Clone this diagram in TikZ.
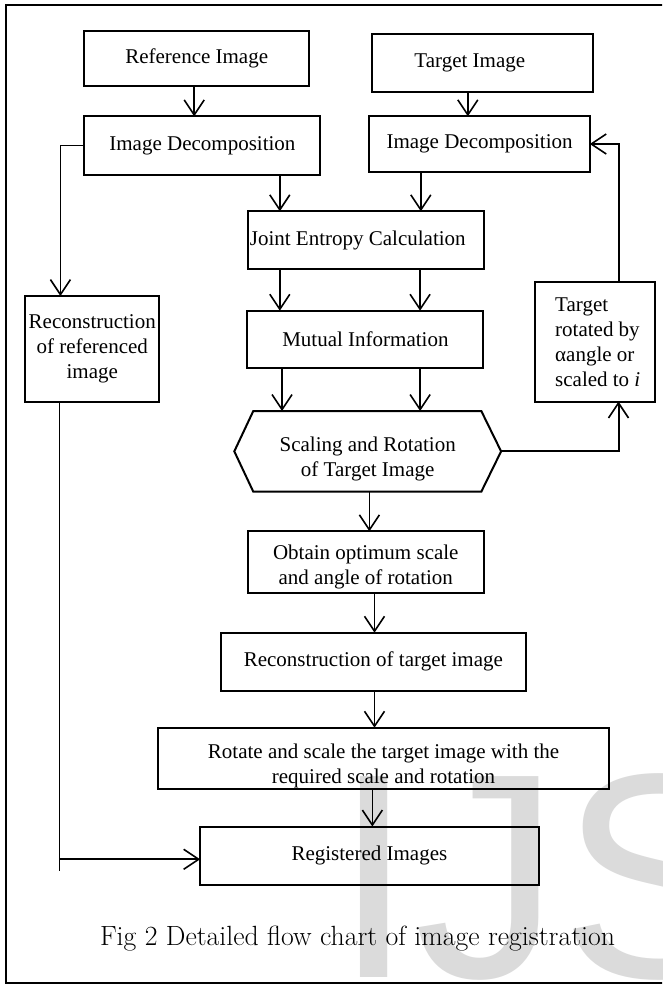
\documentclass[tikz,border=0pt]{standalone}
\usepackage{fontspec}
\usepackage{graphicx}
\newfontfamily\tnr{Liberation Serif}
\newfontfamily\wmfont{Liberation Sans}
\usetikzlibrary{arrows.meta}
\newcommand\mytopstrut[1]{\rule{0pt}{#1pt}}
\begin{document}
\begin{tikzpicture}[x=1pt,y=-1pt,
  box/.style={draw, line width=2pt, inner sep=0pt, outer sep=0pt, align=center,
              font=\tnr\fontsize{21}{25}\selectfont},
  arr/.style={line width=1.6pt, -{Straight Barb[length=15pt,width=20pt,line width=1.6pt]}},
  thinline/.style={line width=1.2pt}]
\useasboundingbox (0,0) rectangle (662,985);
\clip (0,0) rectangle (662,985);
\fill[white] (0,0) rectangle (662,985);
% watermark
\node[anchor=base west, inner sep=0pt, text=black!14,
      font=\wmfont\fontsize{292}{292}\selectfont] (wm) at (333,977) {IJS};
% outer frame (its right side lies outside the picture)
\draw[line width=2pt] (700,5) -- (6,5) -- (6,983) -- (700,983);

% boxes
\node[box, minimum width=224.6pt, minimum height=55pt] (ref) at (196.7,58.5) {Reference Image};
\node[box, minimum width=220.8pt, minimum height=57.4pt] (tgt) at (482.8,63) {\hspace*{-26pt}Target Image};
\node[box, minimum width=236pt, minimum height=58.7pt] (decL) at (202.4,145.7) {Image Decomposition};
\node[box, minimum width=220.4pt, minimum height=55.4pt] (decR) at (479.6,144) {Image Decomposition};
\node[box, minimum width=236pt, minimum height=58pt] (joint) at (365.8,240.3) {\hspace*{-16pt}Joint Entropy Calculation};
\node[box, minimum width=133.9pt, minimum height=105.7pt] (recref) at (92.25,348.9) {Reconstruction\\of referenced\\image};
\node[box, minimum width=236pt, minimum height=57.6pt] (mutual) at (365.4,339.5) {Mutual Information};
\node[box, align=left, minimum width=120.5pt, minimum height=119.5pt] (tgtrot) at (594.75,341.75) {\hspace*{6pt}Target\\\hspace*{6pt}rotated by\\\hspace*{6pt}αangle or\\\hspace*{6pt}scaled to \textit{i}};
\node[box, draw=none, minimum width=266.8pt, minimum height=80.7pt] (hex) at (367.7,451.35) {\mytopstrut{30}Scaling and Rotation\\of Target Image};
\draw[line width=2pt] (hex.west) -- ([xshift=19pt]hex.north west) -- ([xshift=-19.8pt]hex.north east)
  -- (hex.east) -- ([xshift=-19.8pt]hex.south east) -- ([xshift=19pt]hex.south west) -- cycle;
\node[box, minimum width=236pt, minimum height=61.4pt] (obtain) at (365.8,562) {\mytopstrut{25}Obtain optimum scale\\and angle of rotation};
\node[box, minimum width=304.4pt, minimum height=58pt] (recT) at (373.4,661.7) {Reconstruction of target image};
\node[box, minimum width=451.3pt, minimum height=61pt] (rot) at (383.55,758.2) {\mytopstrut{30}Rotate and scale the target image with the\\required scale and rotation};
\node[box, minimum width=338.6pt, minimum height=58pt] (reg) at (369.4,855.5) {Registered Images};

% caption
\node[anchor=base, inner sep=0pt] (cap) at (357.5,945.7)
  {\resizebox{515pt}{!}{\fontsize{25}{30}\selectfont Fig 2 Detailed flow chart of image registration}};

% connectors
\draw[arr] ([xshift=-2.5pt]ref.south) -- ([xshift=-2.5pt]ref.south |- decL.north);
\draw[arr] ([xshift=-15pt]tgt.south) -- ([xshift=-15pt]tgt.south |- decR.north);
\draw[arr] ([xshift=32pt]joint.north west |- decL.south) -- ([xshift=32pt]joint.north west);
\draw[arr] ([xshift=-63pt]joint.north east |- decR.south) -- ([xshift=-63pt]joint.north east);
\draw[arr, line width=1.3pt] (decL.west) -| ([xshift=-31.8pt]recref.north);
\draw[arr] ([xshift=32pt]joint.south west) -- ([xshift=32pt]joint.south west |- mutual.north);
\draw[arr] ([xshift=-63.7pt]joint.south east) -- ([xshift=-63.7pt]joint.south east |- mutual.north);
\draw[arr] ([xshift=34.6pt]mutual.south west) -- ([xshift=34.6pt]mutual.south west |- hex.north);
\draw[arr] ([xshift=-63.3pt]mutual.south east) -- ([xshift=-63.3pt]mutual.south east |- hex.north);
\draw[arr, line width=2pt] (hex.east) -| ([xshift=23.75pt]tgtrot.south);
\draw[arr, line width=2pt] ([xshift=23.75pt]tgtrot.north) |- (decR.east);
\draw[arr] ([xshift=1.7pt]hex.south) -- ([xshift=1.7pt]hex.south |- obtain.north);
\draw[arr] ([xshift=8.7pt]obtain.south) -- ([xshift=8.7pt]obtain.south |- recT.north);
\draw[arr] ([xshift=1.1pt]recT.south) -- ([xshift=1.1pt]recT.south |- rot.north);
\draw[arr] ([xshift=-11.15pt]rot.south) -- ([xshift=-11.15pt]rot.south |- reg.north);
\coordinate (lbot) at (59.5,870.7);
\coordinate (regin) at ([yshift=-3.8pt]reg.west);
\draw[thinline] (recref.south -| lbot) -- (lbot);
\draw[arr, line width=2pt] (lbot |- regin) -- (regin);
\end{tikzpicture}
\end{document}
